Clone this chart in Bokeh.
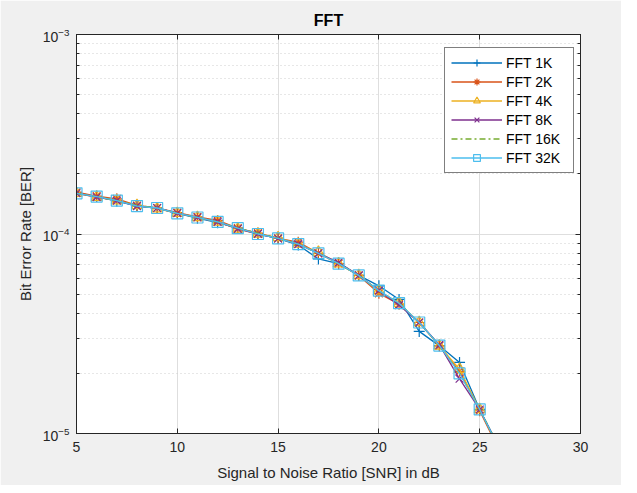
from bokeh.plotting import figure
from bokeh.models import (Range1d, Legend, LegendItem, LinearAxis, LogAxis, LogTicker,
                          SingleIntervalTicker, CustomJSTickFormatter, LogTickFormatter)
from bokeh.embed import file_html
from bokeh.resources import INLINE

title_text = "FFT"
snr = [5, 6, 7, 8, 9, 10, 11, 12, 13, 14, 15, 16, 17, 18, 19, 20, 21, 22, 23, 24, 25, 26]

ber_1k = [1.61e-4, 1.54e-4, 1.46e-4, 1.38e-4, 1.35e-4, 1.27e-4, 1.20e-4, 1.14e-4, 1.07e-4, 1.00e-4,
          9.5e-5, 8.8e-5, 7.5e-5, 7.1e-5, 6.2e-5, 5.5e-5, 4.7e-5, 3.25e-5, 2.75e-5, 2.27e-5, 1.32e-5, 8.4e-6]
ber_2k = [1.62e-4, 1.55e-4, 1.50e-4, 1.39e-4, 1.35e-4, 1.28e-4, 1.22e-4, 1.17e-4, 1.07e-4, 1.01e-4,
          9.5e-5, 9.1e-5, 8.0e-5, 7.1e-5, 6.2e-5, 5.04e-5, 4.45e-5, 3.6e-5, 2.75e-5, 2.05e-5, 1.30e-5, 8.1e-6]
ber_4k = [1.60e-4, 1.53e-4, 1.47e-4, 1.39e-4, 1.34e-4, 1.27e-4, 1.21e-4, 1.15e-4, 1.06e-4, 1.00e-4,
          9.6e-5, 8.9e-5, 8.1e-5, 7.1e-5, 6.2e-5, 5.2e-5, 4.5e-5, 3.6e-5, 2.75e-5, 2.10e-5, 1.32e-5, 8.2e-6]
ber_8k = [1.60e-4, 1.53e-4, 1.47e-4, 1.38e-4, 1.35e-4, 1.27e-4, 1.21e-4, 1.15e-4, 1.06e-4, 1.00e-4,
          9.5e-5, 8.9e-5, 8.0e-5, 7.2e-5, 6.2e-5, 5.2e-5, 4.4e-5, 3.6e-5, 2.78e-5, 1.88e-5, 1.32e-5, 8.3e-6]
ber_16k = [1.60e-4, 1.54e-4, 1.47e-4, 1.39e-4, 1.35e-4, 1.27e-4, 1.21e-4, 1.15e-4, 1.07e-4, 1.01e-4,
           9.5e-5, 8.9e-5, 8.0e-5, 7.1e-5, 6.2e-5, 5.2e-5, 4.5e-5, 3.6e-5, 2.76e-5, 2.0e-5, 1.32e-5, 8.4e-6]
ber_32k = [1.60e-4, 1.54e-4, 1.47e-4, 1.38e-4, 1.35e-4, 1.27e-4, 1.21e-4, 1.15e-4, 1.07e-4, 1.00e-4,
           9.5e-5, 8.9e-5, 8.0e-5, 7.1e-5, 6.2e-5, 5.2e-5, 4.5e-5, 3.6e-5, 2.76e-5, 2.0e-5, 1.32e-5, 8.3e-6]

series = [
    ("FFT 1K", ber_1k, "#0072BD", "cross", "solid"),
    ("FFT 2K", ber_2k, "#D95319", "asterisk", "solid"),
    ("FFT 4K", ber_4k, "#EDB120", "triangle", "solid"),
    ("FFT 8K", ber_8k, "#7E2F8E", "x", "solid"),
    ("FFT 16K", ber_16k, "#77AC30", None, "6 3 2 3"),
    ("FFT 32K", ber_32k, "#4DBEEE", "square", "solid"),
]

FONT = "Liberation Sans"
AX = "#262626"

p = figure(width=621, height=485, output_backend="svg", toolbar_location=None,
           x_range=Range1d(5, 30), y_range=Range1d(1e-5, 1e-3), y_axis_type="log",
           min_border_left=76, min_border_right=41, min_border_top=34, min_border_bottom=52)
p.title.text = title_text
p.title.align = "center"
p.title.text_font = FONT
p.title.text_font_size = "16px"
p.title.text_font_style = "bold"
p.title.text_color = "#000000"
p.title.standoff = 12
p.border_fill_color = "#F0F0F0"
p.background_fill_color = "#FFFFFF"
p.outline_line_color = AX
p.outline_line_width = 1

# grids
p.xgrid.ticker = SingleIntervalTicker(interval=5, num_minor_ticks=0)
p.xgrid.grid_line_color = "#dedede"
p.ygrid.grid_line_color = "#dedede"
p.ygrid.minor_grid_line_color = "#cfcfcf"
p.ygrid.minor_grid_line_dash = "1 3"

blank = CustomJSTickFormatter(code="return '';")

xa = p.xaxis[0]
xa.ticker = SingleIntervalTicker(interval=5, num_minor_ticks=0)
ya = p.yaxis[0]
ya.ticker = LogTicker(num_minor_ticks=10)
ya.formatter = LogTickFormatter()
for a in (xa, ya):
    a.axis_line_color = AX
    a.major_tick_line_color = AX
    a.minor_tick_line_color = AX
    a.major_tick_in = 5
    a.major_tick_out = 0
    a.minor_tick_in = 3
    a.minor_tick_out = 0
    a.major_label_text_font = FONT
    a.major_label_text_font_size = "14px"
    a.major_label_text_color = AX
    a.axis_label_text_font = FONT
    a.axis_label_text_font_size = "15px"
    a.axis_label_text_font_style = "normal"
    a.axis_label_text_color = AX
xa.axis_label = "Signal to Noise Ratio [SNR] in dB"
ya.axis_label = "Bit Error Rate [BER]"
xa.major_label_standoff = 8
xa.axis_label_standoff = 9
ya.major_label_standoff = 7
ya.axis_label_standoff = 6

top = LinearAxis(ticker=SingleIntervalTicker(interval=5, num_minor_ticks=0), formatter=blank)
right = LogAxis(ticker=LogTicker(num_minor_ticks=10), formatter=blank)
for a in (top, right):
    a.axis_line_color = AX
    a.major_tick_line_color = AX
    a.minor_tick_line_color = AX
    a.major_tick_in = 5
    a.major_tick_out = 0
    a.minor_tick_in = 3
    a.minor_tick_out = 0
    a.major_label_standoff = 0
    a.major_label_text_font_size = "1px"
p.add_layout(top, "above")
p.add_layout(right, "right")

items = []
for name, ys, color, marker, dash in series:
    rs = [p.line(snr, ys, line_color=color, line_width=1.3, line_dash=dash)]
    if marker:
        rs.append(p.scatter(snr, ys, marker=marker, size=11, line_color=color,
                            fill_color=None, line_width=1.2))
    items.append(LegendItem(label=name, renderers=rs))

legend = Legend(items=items, location=(368, 260))
legend.margin = 0
legend.padding = 6
legend.spacing = 2
legend.label_height = 17
legend.glyph_height = 17
legend.glyph_width = 51
legend.label_width = 61
legend.label_standoff = 4
legend.label_text_font = FONT
legend.label_text_font_size = "14px"
legend.label_text_color = "#000000"
legend.border_line_color = "#000000"
legend.border_line_width = 1
legend.background_fill_color = "#FFFFFF"
legend.background_fill_alpha = 1
p.add_layout(legend, "center")

open("out.html", "w").write(file_html(p, INLINE))
